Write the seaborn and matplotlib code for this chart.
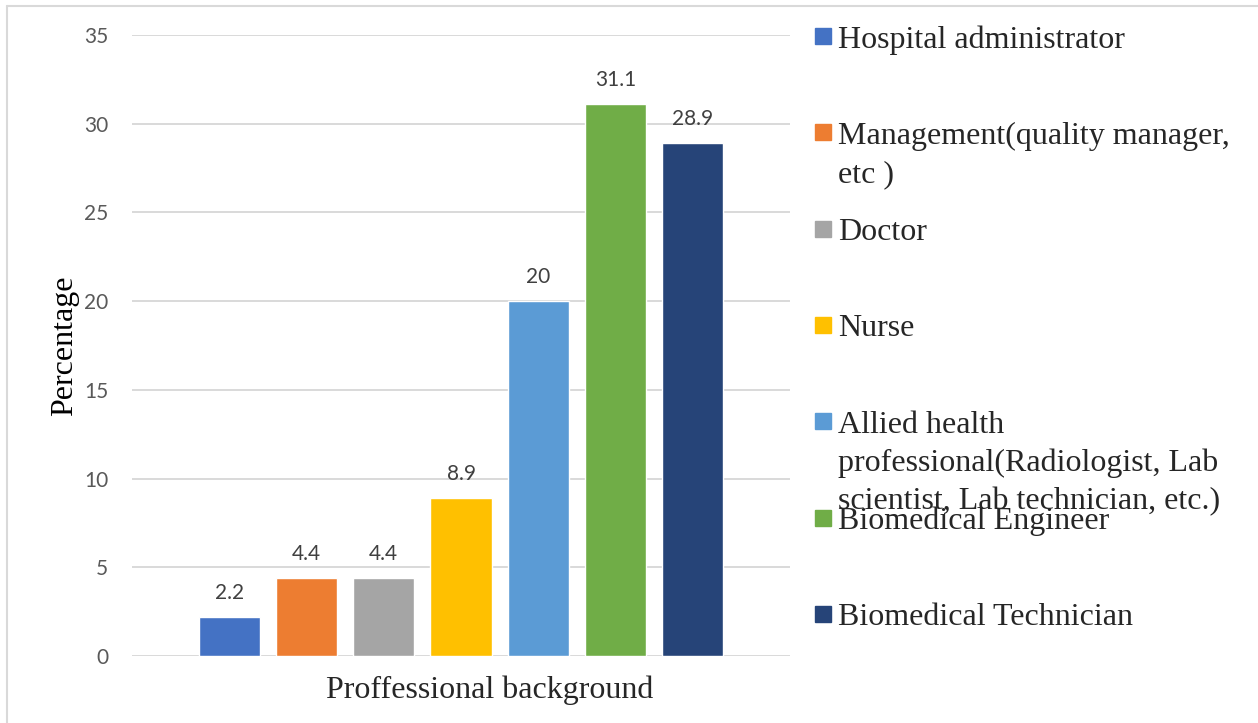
import matplotlib
matplotlib.use('Agg')
import matplotlib.pyplot as plt
import seaborn as sns
from matplotlib.patches import Rectangle
from matplotlib.lines import Line2D

# data
categories = ['Hospital administrator',
              'Management(quality manager,\netc )',
              'Doctor',
              'Nurse',
              'Allied health\nprofessional(Radiologist, Lab\nscientist, Lab technician, etc.)',
              'Biomedical Engineer',
              'Biomedical Technician']
values = [2.2, 4.4, 4.4, 8.9, 20, 31.1, 28.9]
colors = ['#4472C4', '#ED7D31', '#A5A5A5', '#FFC000', '#5B9BD5', '#70AD47', '#264478']
yticks = [0, 5, 10, 15, 20, 25, 30, 35]

W, H = 1258, 723
sns.set_style('white')
plt.rcParams['font.family'] = ['Lato', 'DejaVu Sans']

fig = plt.figure(figsize=(W / 100, H / 100), dpi=100)
ax = fig.add_axes([132 / W, 1 - 656 / H, (790 - 132) / W, (656 - 35) / H])

sns.barplot(x=categories, y=values, hue=categories, palette=colors,
            width=61 / 77, legend=False, saturation=1, ax=ax)

ax.set_xlim(-1.26, 7.26)
ax.set_ylim(0, 35)
ax.set_yticks(yticks)
ax.set_yticklabels([str(t) for t in yticks], fontsize=15, color='#595959')
ax.set_xticks([])
ax.tick_params(axis='y', length=0, pad=17)
ax.grid(axis='y', color='#d9d9d9', linewidth=1.4)
ax.set_axisbelow(True)
for s in ax.spines.values():
    s.set_visible(False)
ax.set_xlabel('')
ax.set_ylabel('Percentage', family='Liberation Serif', fontsize=23, color='black', labelpad=0)
ax.yaxis.set_label_coords(-(132 - 79) / (790 - 132), 0.5)

# data labels
for c in ax.containers:
    ax.bar_label(c, labels=['%g' % b.get_height() for b in c], padding=10,
                 fontsize=15, color='#404040')

# x axis title
fig.text(490 / W, 1 - 690 / H, 'Proffessional background', family='Liberation Serif',
         fontsize=23, ha='center', va='center')

# legend drawn at fixed slots like the original
for i, (lab, col) in enumerate(zip(categories, colors)):
    yc = 36 + i * 96.3
    fig.add_artist(Rectangle((815 / W, 1 - (yc + 8) / H), 16 / W, 16 / H,
                             transform=fig.transFigure, color=col))
    for k, line in enumerate(lab.split('\n')):
        fig.text(838 / W, 1 - (yc + 4 + k * 38) / H, line, family='Liberation Serif',
                 fontsize=23, ha='left', va='center')

# outer border
fig.add_artist(Line2D([7 / W, 7 / W], [0, 1 - 6 / H], transform=fig.transFigure,
                      color='#d9d9d9', linewidth=1.5))
fig.add_artist(Line2D([7 / W, 1], [1 - 6 / H, 1 - 6 / H], transform=fig.transFigure,
                      color='#d9d9d9', linewidth=1.5))

fig.savefig('out.png', dpi=100)
